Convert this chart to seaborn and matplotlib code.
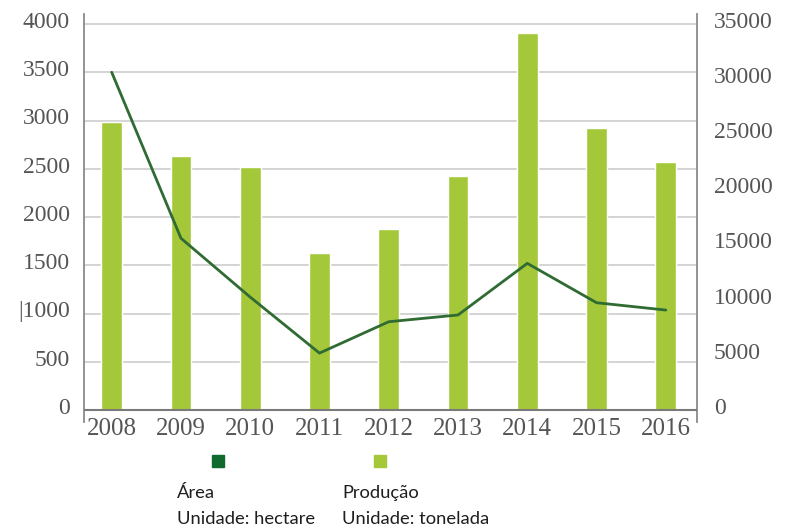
import numpy as np
import pandas as pd
import matplotlib
matplotlib.use("Agg")
import matplotlib.pyplot as plt
from matplotlib.lines import Line2D
from matplotlib.transforms import ScaledTranslation
import seaborn as sns

# ---- data -------------------------------------------------------------
years = ["2008", "2009", "2010", "2011", "2012", "2013", "2014", "2015", "2016"]
area_ha = [3500, 1780, 1170, 590, 915, 985, 1520, 1112, 1036]
producao_t = [26100, 23000, 22050, 14250, 16400, 21250, 34150, 25600, 22500]

left_ticks = [0, 500, 1000, 1500, 2000, 2500, 3000, 3500, 4000]
left_tick_labels = ["0", "500", "|1000", "1500", "2000", "2500", "3000", "3500", "4000"]
right_ticks = [0, 5000, 10000, 15000, 20000, 25000, 30000, 35000]
right_tick_labels = ["0", "5000", "10000", "15000", "20000", "25000", "30000", "35000"]

df = pd.DataFrame({"Ano": years, "Área": area_ha, "Produção": producao_t})

# ---- style ------------------------------------------------------------
BAR = "#a5c83a"
LINE = "#2f6b32"
DARK_SQ = "#0f6a2e"
GRID = "#d4d4d4"
SPINE = "#8a8a8a"
TICK_TXT = "#555555"

sns.set_style("white")
plt.rcParams["font.family"] = ["Liberation Serif", "DejaVu Serif"]

W, H = 789, 526
fig = plt.figure(figsize=(W / 100, H / 100), dpi=100)

# axes box in pixel terms: left 84, right 697, top 14, bottom 422
ax = fig.add_axes([84 / W, 1 - 422 / H, (697 - 84) / W, (422 - 14) / H])
ylim_left = (-124, 4104)
ratio = 35000 / 4000

# production bars on the right-hand scale
ax2 = ax.twinx()
sns.barplot(data=df, x="Ano", y="Produção", ax=ax2, color=BAR,
            width=0.3, saturation=1, zorder=2)
ax2.set_ylim(ylim_left[0] * ratio, ylim_left[1] * ratio)

# area line on its own layer above the bars, left-hand scale
ax_line = ax.twinx()
sns.lineplot(data=df, x="Ano", y="Área", ax=ax_line, color=LINE,
             linewidth=2.0, zorder=3)
ax_line.set_ylim(*ylim_left)
ax_line.axhline(0, color="#7a7a7a", lw=1.5, zorder=4)
ax_line.set_yticks([])
ax_line.set_ylabel("")
for s in ax_line.spines.values():
    s.set_visible(False)

# left axis: grid + labels
ax.set_ylim(*ylim_left)
ax.set_yticks(left_ticks, left_tick_labels)
ax.yaxis.grid(True, color=GRID, lw=1.4)
ax.set_xlim(-0.4, 8.45)
ax.set_xticks(range(len(years)), years)
ax.tick_params(axis="x", length=0, pad=-3, labelsize=18, labelcolor=TICK_TXT)
ax.tick_params(axis="y", length=0, pad=10, labelsize=17, labelcolor=TICK_TXT)
ax.set_xlabel("")
ax.set_ylabel("")
for side in ("top", "right", "bottom"):
    ax.spines[side].set_visible(False)
ax.spines["left"].set_color(SPINE)
ax.spines["left"].set_linewidth(1.3)

# right axis
ax2.set_yticks(right_ticks, right_tick_labels)
ax2.tick_params(axis="y", length=0, pad=12, labelsize=17, labelcolor=TICK_TXT)
ax2.set_ylabel("")
ax2.set_xlabel("")
for side in ("top", "left", "bottom"):
    ax2.spines[side].set_visible(False)
ax2.spines["right"].set_color(SPINE)
ax2.spines["right"].set_linewidth(1.3)

# nudge value labels slightly upward
lift = ScaledTranslation(0, 3 / 72, fig.dpi_scale_trans)
for lab in ax.get_yticklabels() + ax2.get_yticklabels():
    lab.set_transform(lab.get_transform() + lift)

# ---- legend below the plot -------------------------------------------
def px(x, y):
    return x / W, 1 - y / H

for (x, y), c in (((218, 461), DARK_SQ), ((380, 461), BAR)):
    fig.add_artist(Line2D([px(x, y)[0]], [px(x, y)[1]], marker="s",
                          markersize=8.5, color=c, linestyle="none",
                          transform=fig.transFigure))

leg_font = dict(family=["Lato", "DejaVu Sans"], size=13.2, color="#1e1e1e",
                va="center", ha="left")
fig.text(*px(177, 493), "Área", **leg_font)
fig.text(*px(177, 519), "Unidade: hectare", **leg_font)
fig.text(*px(342, 493), "Produção", **leg_font)
fig.text(*px(342, 519), "Unidade: tonelada", **leg_font)

fig.savefig("out.png", dpi=100, facecolor="white")
